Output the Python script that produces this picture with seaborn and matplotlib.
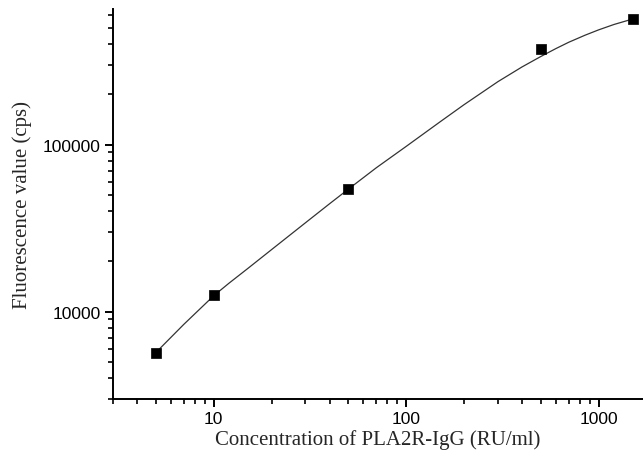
import matplotlib
matplotlib.use("Agg")
import matplotlib.pyplot as plt
import matplotlib.ticker as mticker
import seaborn as sns
import pandas as pd

# Measured standard points
conc = [5, 10, 50, 500, 1500]
fluor = [5680, 12600, 54000, 376000, 566000]

# Fitted curve
curve_conc = [5, 7, 10, 12, 15, 20, 30, 40, 50, 70, 100, 150, 200, 300,
              400, 500, 600, 700, 850, 1000, 1200, 1500]
curve_fluor = [5680, 8400, 12450, 14800, 18100, 23550, 34100, 44300, 54100,
               72800, 97700, 137100, 173800, 238800, 292400, 337300, 376700,
               411100, 452900, 487500, 524800, 566000]

xlabel = "Concentration of PLA2R-IgG (RU/ml)"
ylabel = "Fluorescence value (cps)"

sns.set_style("ticks")
plt.rcParams["font.family"] = ["Liberation Sans", "DejaVu Sans"]

fig = plt.figure(figsize=(6.43, 4.60), dpi=100)
ax = fig.add_axes([113 / 643, 60 / 460, 1 - 113 / 643, 390 / 460])

pts = pd.DataFrame({"x": conc, "y": fluor})
crv = pd.DataFrame({"x": curve_conc, "y": curve_fluor})

sns.lineplot(data=crv, x="x", y="y", ax=ax, color="#333333", linewidth=0.9,
             sort=True, estimator=None)
sns.scatterplot(data=pts, x="x", y="y", ax=ax, marker="s", s=60,
                color="black", edgecolor="black", linewidth=0.5, zorder=5)

ax.set_xscale("log")
ax.set_yscale("log")
ax.set_xlim(3, 1700)
ax.set_ylim(3000, 650000)

ax.xaxis.set_major_locator(mticker.FixedLocator([10, 100, 1000]))
ax.xaxis.set_major_formatter(mticker.FuncFormatter(lambda v, p: f"{int(round(v))}"))
ax.xaxis.set_minor_locator(mticker.LogLocator(base=10, subs=range(2, 10)))
ax.xaxis.set_minor_formatter(mticker.NullFormatter())
ax.yaxis.set_major_locator(mticker.FixedLocator([10000, 100000]))
ax.yaxis.set_major_formatter(mticker.FuncFormatter(lambda v, p: f"{int(round(v))}"))
ax.yaxis.set_minor_locator(mticker.LogLocator(base=10, subs=range(2, 10)))
ax.yaxis.set_minor_formatter(mticker.NullFormatter())

for s in ["top", "right"]:
    ax.spines[s].set_visible(False)
for s in ["left", "bottom"]:
    ax.spines[s].set_linewidth(1.4)
    ax.spines[s].set_color("black")

ax.tick_params(which="major", direction="out", length=6, width=1.4,
               labelsize=12.5, colors="black")
ax.tick_params(axis="x", which="major", pad=3)
ax.tick_params(axis="y", which="major", pad=3)
ax.tick_params(which="minor", direction="out", length=3.5, width=1.2, colors="black")

ax.set_xlabel(xlabel, family=["Liberation Serif", "DejaVu Serif"], fontsize=15, labelpad=2)
ax.set_ylabel(ylabel, family=["Liberation Serif", "DejaVu Serif"], fontsize=15, labelpad=8)

fig.savefig("out.png", dpi=100)
